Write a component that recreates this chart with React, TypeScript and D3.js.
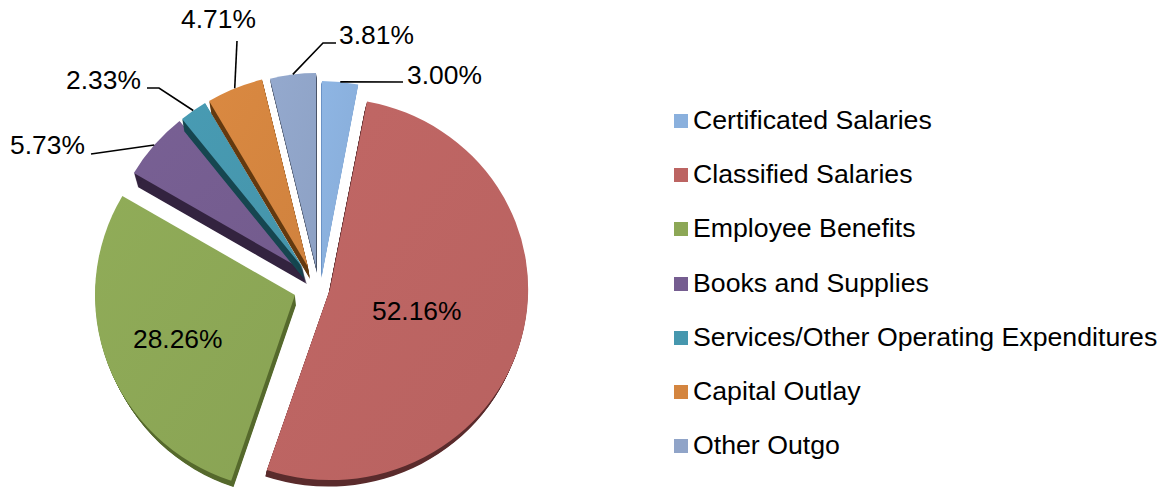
import React from "react";
import * as d3 from "d3";

const categories = ["Certificated Salaries", "Classified Salaries", "Employee Benefits", "Books and Supplies", "Services/Other Operating Expenditures", "Capital Outlay", "Other Outgo"];
const shares = [3.0, 52.16, 28.26, 5.73, 2.33, 4.71, 3.81];
const colors = ["#8AB0DD", "#BC6462", "#8CA756", "#755D90", "#4697AE", "#D4853F", "#90A4C8"];
const sideColors = ["#6B93C6", "#5A2B2C", "#55692C", "#33233F", "#164650", "#63390F", "#4A5468"];

// layout of each exploded slice: apex, radii, extrusion
const apexX = [322, 330, 295, 303, 303, 308, 316];
const apexY = [275, 289, 295, 270, 268, 267, 267];
const radX = [194, 198, 200, 196, 192, 194, 194];
const radY = [194, 191, 196, 192, 192, 193, 194];
const sideX = [-1, -2, 1, 4, 2, 2, 1];
const sideY = [3, 8, 10, 14, 12, 12, 6];
const sideShrink = [0, 0.008, 0.02, 0, 0, 0, 0];

// label layout
const labelX = [407, 372, 133, 10, 66, 181, 339];
const labelY = [84, 320, 348, 154, 89, 28, 44];
const leaderEnd: ([number, number][] | null)[] = [
  [[403, 82]],
  null,
  null,
  [[91, 154]],
  [[159, 88], [147, 88]],
  [[237, 41]],
  [[323, 43], [336, 43]],
];

const legendX = 674;
const legendRows = [121, 175, 229, 284, 338, 392, 446];
const font = "'Liberation Sans', Arial, sans-serif";

export default function App() {
  const pie = d3.pie<number>().sort(null)(shares);
  const unit = d3.arc<d3.PieArcDatum<number>>().innerRadius(0).outerRadius(1);
  const line = d3.line();
  const sliceTransform = (i: number, k = 0) =>
    `translate(${apexX[i] + k * sideX[i]},${apexY[i] + k * sideY[i]}) scale(${radX[i] * (1 - k * sideShrink[i])},${radY[i] * (1 - k * sideShrink[i])})`;
  const order = [1, 2, 3, 4, 5, 6, 0];
  return (
    <svg width={1168} height={489} style={{ position: "absolute", left: 0, top: 0, display: "block", background: "#fff" }}>
      <defs>
        {colors.map((c, i) => (
          <linearGradient key={i} id={`g${i}`} x1="0" y1="0" x2="1" y2="1">
            <stop offset="0" stopColor={d3.rgb(c).brighter(0.08).formatHex()} />
            <stop offset="1" stopColor={d3.rgb(c).darker(0.06).formatHex()} />
          </linearGradient>
        ))}
      </defs>
      {order.map((i) => (
        <g key={i}>
          {d3.range(1, Math.max(Math.abs(sideX[i]), Math.abs(sideY[i])) + 1).map((s, _, arr) => (
            <path key={s} d={unit(pie[i]) as string} fill={sideColors[i]} transform={sliceTransform(i, s / arr.length)} />
          ))}
          <path d={unit(pie[i]) as string} fill={`url(#g${i})`} transform={sliceTransform(i)} />
        </g>
      ))}
      {pie.map((p, i) => {
        const ends = leaderEnd[i];
        if (!ends) return null;
        const mid = (p.startAngle + p.endAngle) / 2;
        const start: [number, number] = [apexX[i] + radX[i] * Math.sin(mid), apexY[i] - radY[i] * Math.cos(mid)];
        return <path key={i} d={line([start, ...ends]) as string} fill="none" stroke="#000" strokeWidth={1.6} />;
      })}
      {shares.map((v, i) => (
        <text key={i} x={labelX[i]} y={labelY[i]} fontFamily={font} fontSize={26.4} fill="#000">
          {v.toFixed(2)}%
        </text>
      ))}
      {categories.map((c, i) => (
        <g key={c}>
          <rect x={legendX} y={legendRows[i] - 7} width={14} height={14} fill={colors[i]} />
          <text x={legendX + 19} y={legendRows[i] + 7.5} fontFamily={font} fontSize={26.7} fill="#000">
            {c}
          </text>
        </g>
      ))}
    </svg>
  );
}
